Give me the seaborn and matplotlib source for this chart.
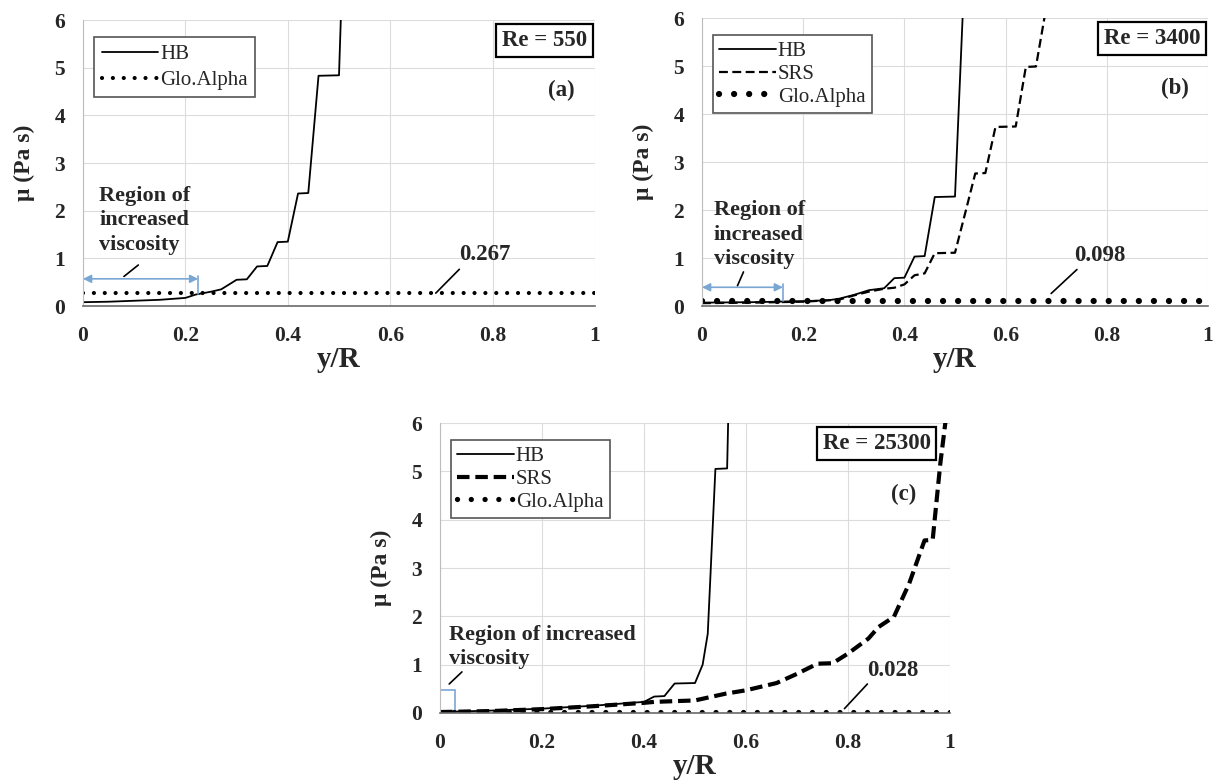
import matplotlib
matplotlib.use("Agg")
import matplotlib.pyplot as plt
from matplotlib.ticker import MultipleLocator, FuncFormatter
from matplotlib.patches import Rectangle
import seaborn as sns

sns.set_style("white")
plt.rcParams['font.family'] = ['Liberation Serif', 'DejaVu Serif']

# ---------------- data ----------------
a_hb_x = [0, 0.05, 0.10, 0.15, 0.20, 0.22, 0.25, 0.27, 0.30, 0.32, 0.34, 0.36, 0.38, 0.40, 0.42, 0.44, 0.46, 0.50, 0.505]
a_hb_y = [0.08, 0.09, 0.11, 0.13, 0.17, 0.24, 0.30, 0.35, 0.55, 0.56, 0.83, 0.84, 1.34, 1.35, 2.36, 2.37, 4.83, 4.84, 6.5]
a_glo_x = [0, 1]
a_glo_y = [0.267, 0.267]

b_hb_x = [0, 0.1, 0.2, 0.25, 0.27, 0.30, 0.33, 0.36, 0.38, 0.40, 0.42, 0.44, 0.46, 0.50, 0.517]
b_hb_y = [0.07, 0.08, 0.10, 0.12, 0.15, 0.23, 0.33, 0.37, 0.58, 0.59, 1.03, 1.04, 2.27, 2.28, 6.5]
b_srs_x = [0, 0.1, 0.2, 0.27, 0.30, 0.33, 0.36, 0.38, 0.40, 0.42, 0.44, 0.46, 0.50, 0.52, 0.54, 0.56, 0.58, 0.62, 0.64, 0.66, 0.68]
b_srs_y = [0.06, 0.07, 0.09, 0.13, 0.22, 0.30, 0.36, 0.38, 0.45, 0.64, 0.68, 1.10, 1.11, 1.93, 2.76, 2.77, 3.73, 3.74, 4.98, 4.99, 6.2]
b_glo_x = [0, 1]
b_glo_y = [0.098, 0.098]

c_hb_x = [0, 0.1, 0.2, 0.3, 0.4, 0.42, 0.44, 0.46, 0.50, 0.515, 0.525, 0.54, 0.563, 0.566]
c_hb_y = [0.02, 0.05, 0.09, 0.15, 0.23, 0.34, 0.35, 0.61, 0.62, 1.0, 1.64, 5.05, 5.06, 6.5]
c_srs_x = [0, 0.1, 0.2, 0.3, 0.4, 0.42, 0.50, 0.56, 0.60, 0.66, 0.70, 0.74, 0.77, 0.80, 0.84, 0.86, 0.89, 0.92, 0.95, 0.966, 0.981, 0.992]
c_srs_y = [0.02, 0.04, 0.08, 0.14, 0.21, 0.23, 0.26, 0.40, 0.47, 0.62, 0.81, 1.02, 1.03, 1.23, 1.54, 1.78, 1.99, 2.68, 3.57, 3.58, 5.16, 6.1]
c_glo_x = [0, 1]
c_glo_y = [0.028, 0.028]

x_ticks = [0, 0.2, 0.4, 0.6, 0.8, 1.0]
y_ticks = [0, 1, 2, 3, 4, 5, 6]
re_labels = ["Re = 550", "Re = 3400", "Re = 25300"]
panel_labels = ["(a)", "(b)", "(c)"]
glo_values = ["0.267", "0.098", "0.028"]

BLUE = "#7aa6d4"

fig = plt.figure(figsize=(12.25, 7.84), dpi=100)
W, H = 1225, 784
def add_ax(l, r, t, b):
    return fig.add_axes([l / W, 1 - b / H, (r - l) / W, (b - t) / H])

ax_a = add_ax(83, 595, 20, 306)
ax_b = add_ax(702, 1208, 18, 306)
ax_c = add_ax(440, 950, 423, 713)

def style_axis(ax):
    ax.set_xlim(0, 1)
    ax.set_ylim(0, 6)
    ax.set_xticks(x_ticks)
    ax.set_yticks(y_ticks)
    ax.xaxis.set_minor_locator(MultipleLocator(0.04))
    ax.xaxis.set_major_formatter(FuncFormatter(lambda v, p: "0" if v == 0 else ("1" if v == 1 else f"{v:.1f}")))
    ax.grid(True, which='major', color='#dcdcdc', lw=0.8)
    ax.set_axisbelow(True)
    for s in ['top', 'right']:
        ax.spines[s].set_visible(False)
    ax.spines['left'].set_color('#bdbdbd')
    ax.spines['bottom'].set_color('#6a6a6a')
    ax.spines['bottom'].set_linewidth(1.2)
    ax.tick_params(axis='x', which='major', direction='inout', length=9, width=1, color='#6a6a6a', pad=10)
    ax.tick_params(axis='x', which='minor', direction='out', length=5, width=1, color='#6a6a6a')
    ax.tick_params(axis='y', which='both', length=0, pad=13)
    for lab in ax.get_xticklabels() + ax.get_yticklabels():
        lab.set_fontweight('bold')
        lab.set_fontsize(15.5)
    ax.set_xlabel("y/R", fontsize=21, fontweight='bold', labelpad=0)
    ax.set_ylabel("μ (Pa s)", fontsize=17, fontweight='bold', labelpad=14)

def dotted(lw, gap):
    return dict(linestyle=(0, (0.01, gap)), dash_capstyle='round', linewidth=lw)

# panel a
sns.lineplot(x=a_hb_x, y=a_hb_y, ax=ax_a, color='black', linewidth=1.3, label='HB', sort=False, estimator=None)
sns.lineplot(x=a_glo_x, y=a_glo_y, ax=ax_a, color='black', label='Glo.Alpha', sort=False, estimator=None, **dotted(3.0, 2.6))

# panel b
sns.lineplot(x=b_hb_x, y=b_hb_y, ax=ax_b, color='black', linewidth=1.3, label='HB', sort=False, estimator=None)
sns.lineplot(x=b_srs_x, y=b_srs_y, ax=ax_b, color='black', linewidth=1.6, linestyle=(0, (4, 2)), label='SRS', sort=False, estimator=None)
sns.lineplot(x=b_glo_x, y=b_glo_y, ax=ax_b, color='black', label='Glo.Alpha', sort=False, estimator=None, **dotted(4.5, 2.4))

# panel c
sns.lineplot(x=c_hb_x, y=c_hb_y, ax=ax_c, color='black', linewidth=1.3, label='HB', sort=False, estimator=None)
sns.lineplot(x=c_srs_x, y=c_srs_y, ax=ax_c, color='black', linewidth=3.0, linestyle=(0, (3.0, 1.4)), label='SRS', sort=False, estimator=None)
sns.lineplot(x=c_glo_x, y=c_glo_y, ax=ax_c, color='black', label='Glo.Alpha', sort=False, estimator=None, **dotted(3.8, 2.6))

axes = [ax_a, ax_b, ax_c]
for i, ax in enumerate(axes):
    style_axis(ax)
    leg = ax.legend(loc='upper left', bbox_to_anchor=(0.022, 0.94), fontsize=15, frameon=True,
                    fancybox=False, edgecolor='#555555', framealpha=1, handlelength=2.7,
                    handletextpad=0.1, labelspacing=0.3 if i == 0 else 0.15, borderpad=0.35 if i == 0 else 0.3,
                    borderaxespad=0)
    leg.get_frame().set_linewidth(1.2)
    ax.text(0.985 if i < 2 else 0.962, 0.965, re_labels[i], transform=ax.transAxes, ha='right', va='top',
            fontsize=16.5, fontweight='bold',
            bbox=dict(boxstyle='square,pad=0.25', fc='white', ec='black', lw=1.6))
    ax.text(0.935 if i < 2 else 0.91, 4.53, panel_labels[i], ha='center', va='center',
            fontsize=16.5, fontweight='bold')

# annotations panel a
ax_a.text(0.032, 1.8, "Region of\nincreased\nviscosity", ha='left', va='center', fontsize=16,
          fontweight='bold', linespacing=1.3)
ax_a.annotate('', xy=(0.225, 0.57), xytext=(0.0, 0.57),
              arrowprops=dict(arrowstyle='<|-|>', color=BLUE, lw=1.2, mutation_scale=12, shrinkA=0, shrinkB=0))
ax_a.plot([0.225, 0.225], [0.25, 0.62], color=BLUE, lw=1.2)
ax_a.plot([0.08, 0.108], [0.62, 0.86], color='black', lw=1.2)
ax_a.text(0.785, 1.07, glo_values[0], ha='center', va='center', fontsize=16.5, fontweight='bold')
ax_a.plot([0.689, 0.735], [0.27, 0.77], color='black', lw=1.2)

# annotations panel b
ax_b.text(0.023, 1.48, "Region of\nincreased\nviscosity", ha='left', va='center', fontsize=16,
          fontweight='bold', linespacing=1.3)
ax_b.annotate('', xy=(0.16, 0.39), xytext=(0.0, 0.39),
              arrowprops=dict(arrowstyle='<|-|>', color=BLUE, lw=1.2, mutation_scale=12, shrinkA=0, shrinkB=0))
ax_b.plot([0.16, 0.16], [0.1, 0.45], color=BLUE, lw=1.2)
ax_b.plot([0.07, 0.082], [0.42, 0.71], color='black', lw=1.2)
ax_b.text(0.787, 1.06, glo_values[1], ha='center', va='center', fontsize=16.5, fontweight='bold')
ax_b.plot([0.69, 0.741], [0.26, 0.76], color='black', lw=1.2)

# annotations panel c
ax_c.text(0.018, 1.37, "Region of increased\nviscosity", ha='left', va='center', fontsize=16,
          fontweight='bold', linespacing=1.3)
ax_c.add_patch(Rectangle((0, 0), 0.03, 0.48, fill=False, ec=BLUE, lw=1.2))
ax_c.plot([0.018, 0.043], [0.6, 0.85], color='black', lw=1.2)
ax_c.text(0.887, 0.88, glo_values[2], ha='center', va='center', fontsize=16.5, fontweight='bold')
ax_c.plot([0.793, 0.838], [0.09, 0.6], color='black', lw=1.2)

fig.savefig("out.png", dpi=100, facecolor='white')
